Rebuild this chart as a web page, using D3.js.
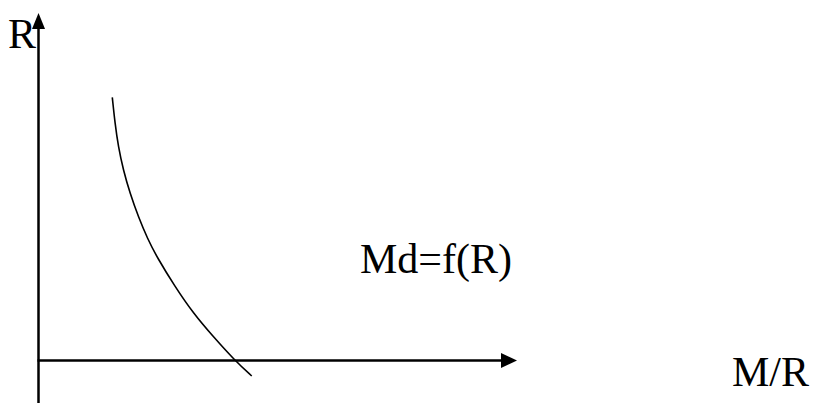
<!DOCTYPE html>
<html>
<head>
<meta charset="utf-8">
<script src="https://cdn.jsdelivr.net/npm/d3@7"></script>
<style>
    body { margin: 0; background: #fff; }
</style>
</head>
<body>
<div id="chart"></div>
<script>
// demand for money curve (axis units 0..10)
var curveX = [1.542, 1.599, 1.668, 1.772, 1.912, 2.086, 2.282, 2.470, 2.853, 3.235, 3.653, 4.107, 4.456];
var curveY = [7.574, 6.826, 6.153, 5.482, 4.812, 4.138, 3.496, 2.987, 2.124, 1.358, 0.685, -0.006, -0.446];
var yLabel = "R";
var xLabel = "M/R";
var curveLabel = "Md=f(R)";

var width = 814, height = 403;

var svg = d3.select("#chart")
    .append("svg")
    .attr("width", width)
    .attr("height", height);

// scales
var x = d3.scaleLinear().domain([0, 10]).range([38.5, 517]);
var y = d3.scaleLinear().domain([0, 10]).range([360.5, 13]);

// y axis line (runs off the bottom)
svg.append("line")
    .attr("x1", x(0)).attr("x2", x(0))
    .attr("y1", height).attr("y2", y(10) + 12)
    .attr("stroke", "#000")
    .attr("stroke-width", 2.5);

svg.append("path")
    .attr("d", "M" + x(0) + "," + y(10) + "L" + (x(0) - 6.5) + "," + (y(10) + 16) + "L" + (x(0) + 6.5) + "," + (y(10) + 16) + "Z")
    .attr("fill", "#000");

// x axis line
svg.append("line")
    .attr("x1", x(0) - 1).attr("x2", x(10) - 12)
    .attr("y1", y(0)).attr("y2", y(0))
    .attr("stroke", "#000")
    .attr("stroke-width", 2.5);

svg.append("path")
    .attr("d", "M" + x(10) + "," + y(0) + "L" + (x(10) - 16) + "," + (y(0) - 7.5) + "L" + (x(10) - 16) + "," + (y(0) + 7.5) + "Z")
    .attr("fill", "#000");

// the curve
var pts = curveX.map(function (d, i) { return [d, curveY[i]]; });
var line = d3.line()
    .x(function (d) { return x(d[0]); })
    .y(function (d) { return y(d[1]); })
    .curve(d3.curveBasis);

svg.append("path")
    .datum(pts)
    .attr("d", line)
    .attr("fill", "none")
    .attr("stroke", "#000")
    .attr("stroke-width", 1.6);

// labels
function label(tx, ty, s) {
    svg.append("text")
        .attr("x", tx).attr("y", ty)
        .style("font-family", '"Liberation Serif", "Times New Roman", serif')
        .style("font-size", "42px")
        .attr("fill", "#000")
        .text(s);
}
label(8, 48, yLabel);
label(732, 385.5, xLabel);
label(360, 272.5, curveLabel);
</script>
</body>
</html>
